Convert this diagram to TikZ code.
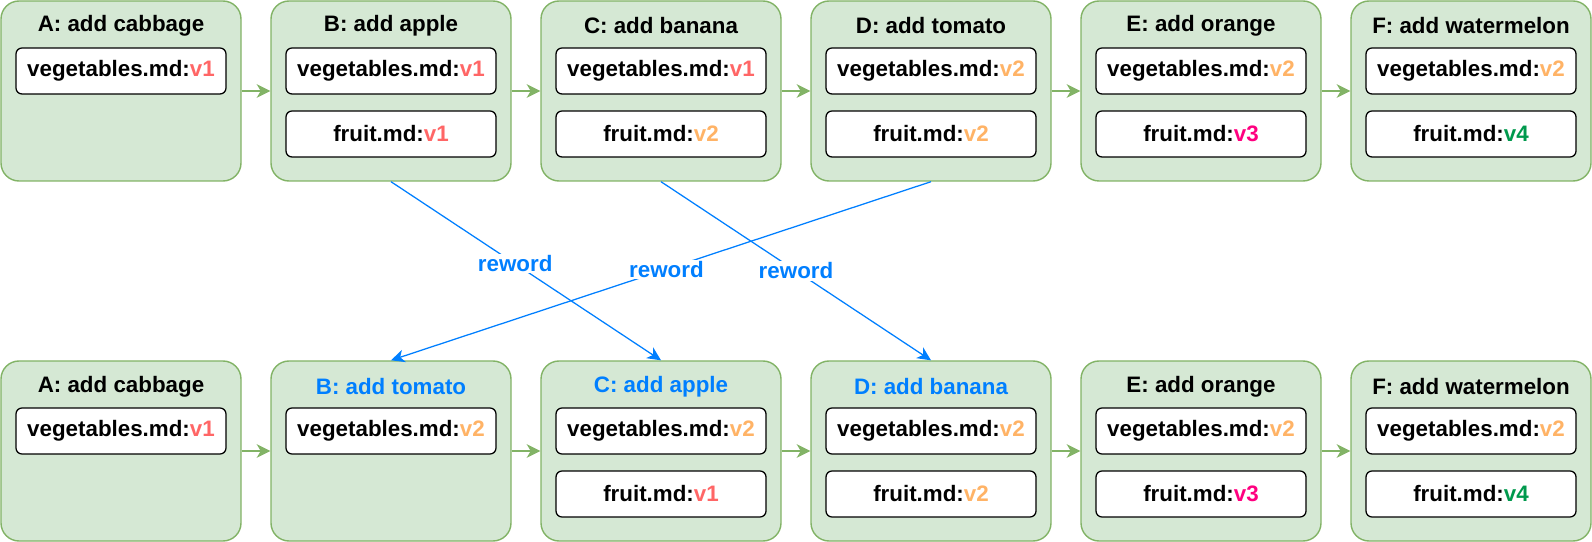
\documentclass[tikz,border=0pt]{standalone}
\usepackage{fontspec}
\setmainfont{Liberation Sans}
\usetikzlibrary{arrows.meta}
\definecolor{boxfill}{HTML}{D5E8D4}
\definecolor{boxline}{HTML}{82B366}
\definecolor{rewordblue}{HTML}{007FFF}
\definecolor{vone}{HTML}{FF6666}
\definecolor{vtwo}{HTML}{FFB366}
\definecolor{vthree}{HTML}{FF0080}
\definecolor{vfour}{HTML}{00994D}

\begin{document}
\begin{tikzpicture}[scale=1,
	font=\bfseries\fontsize{15.9}{19}\selectfont,
	commit/.style={draw=boxline, fill=boxfill, line width=1pt, rounded corners=0.45cm, minimum width=6cm, minimum height=4.5cm, inner sep=0pt},
	filebox/.style={draw=black, fill=white, line width=0.9pt, rounded corners=0.15cm, minimum width=5.25cm, minimum height=1.15cm, inner sep=0pt},
	head/.style={inner sep=0pt},
	flow/.style={draw=boxline, line width=1pt, -{Stealth[length=0.34cm, width=0.34cm, inset=0.1cm]}},
	move/.style={draw=rewordblue, line width=0.9pt, -{Stealth[length=0.34cm, width=0.32cm, inset=0.1cm]}},
	lbl/.style={fill=white, text=rewordblue, inner sep=1pt}]
		\useasboundingbox (0,0) rectangle (39.8,-13.55);

		\node[commit] (a1) at (3.025,-2.275) {};
		\node[commit] (a2) at (9.775,-2.275) {};
		\node[commit] (a3) at (16.525,-2.275) {};
		\node[commit] (a4) at (23.275,-2.275) {};
		\node[commit] (a5) at (30.025,-2.275) {};
		\node[commit] (a6) at (36.775,-2.275) {};

		\node[head] (ta1) at (3.025,-0.65) {A: add cabbage};
		\node[head] (ta2) at (9.775,-0.65) {B: add apple};
		\node[head] (ta3) at (16.525,-0.65) {C: add banana};
		\node[head] (ta4) at (23.275,-0.65) {D: add tomato};
		\node[head] (ta5) at (30.025,-0.65) {E: add orange};
		\node[head] (ta6) at (36.775,-0.65) {F: add watermelon};

		\node[filebox] (va1) at (3.025,-1.775) {vegetables.md:\textcolor{vone}{v1}};
		\node[filebox] (va2) at (9.775,-1.775) {vegetables.md:\textcolor{vone}{v1}};
		\node[filebox] (va3) at (16.525,-1.775) {vegetables.md:\textcolor{vone}{v1}};
		\node[filebox] (va4) at (23.275,-1.775) {vegetables.md:\textcolor{vtwo}{v2}};
		\node[filebox] (va5) at (30.025,-1.775) {vegetables.md:\textcolor{vtwo}{v2}};
		\node[filebox] (va6) at (36.775,-1.775) {vegetables.md:\textcolor{vtwo}{v2}};

		\node[filebox] (fa2) at (9.775,-3.35) {fruit.md:\textcolor{vone}{v1}};
		\node[filebox] (fa3) at (16.525,-3.35) {fruit.md:\textcolor{vtwo}{v2}};
		\node[filebox] (fa4) at (23.275,-3.35) {fruit.md:\textcolor{vtwo}{v2}};
		\node[filebox] (fa5) at (30.025,-3.35) {fruit.md:\textcolor{vthree}{v3}};
		\node[filebox] (fa6) at (36.775,-3.35) {fruit.md:\textcolor{vfour}{v4}};

		\node[commit] (b1) at (3.025,-11.275) {};
		\node[commit] (b2) at (9.775,-11.275) {};
		\node[commit] (b3) at (16.525,-11.275) {};
		\node[commit] (b4) at (23.275,-11.275) {};
		\node[commit] (b5) at (30.025,-11.275) {};
		\node[commit] (b6) at (36.775,-11.275) {};

		\node[head] (tb1) at (3.025,-9.675) {A: add cabbage};
		\node[head, text=rewordblue] (tb2) at (9.775,-9.675) {B: add tomato};
		\node[head, text=rewordblue] (tb3) at (16.525,-9.675) {C: add apple};
		\node[head, text=rewordblue] (tb4) at (23.275,-9.675) {D: add banana};
		\node[head] (tb5) at (30.025,-9.675) {E: add orange};
		\node[head] (tb6) at (36.775,-9.675) {F: add watermelon};

		\node[filebox] (vb1) at (3.025,-10.775) {vegetables.md:\textcolor{vone}{v1}};
		\node[filebox] (vb2) at (9.775,-10.775) {vegetables.md:\textcolor{vtwo}{v2}};
		\node[filebox] (vb3) at (16.525,-10.775) {vegetables.md:\textcolor{vtwo}{v2}};
		\node[filebox] (vb4) at (23.275,-10.775) {vegetables.md:\textcolor{vtwo}{v2}};
		\node[filebox] (vb5) at (30.025,-10.775) {vegetables.md:\textcolor{vtwo}{v2}};
		\node[filebox] (vb6) at (36.775,-10.775) {vegetables.md:\textcolor{vtwo}{v2}};

		\node[filebox] (fb3) at (16.525,-12.35) {fruit.md:\textcolor{vone}{v1}};
		\node[filebox] (fb4) at (23.275,-12.35) {fruit.md:\textcolor{vtwo}{v2}};
		\node[filebox] (fb5) at (30.025,-12.35) {fruit.md:\textcolor{vthree}{v3}};
		\node[filebox] (fb6) at (36.775,-12.35) {fruit.md:\textcolor{vfour}{v4}};

		\draw[flow] (a1) -- (a2);
		\draw[flow] (a2) -- (a3);
		\draw[flow] (a3) -- (a4);
		\draw[flow] (a4) -- (a5);
		\draw[flow] (a5) -- (a6);

		\draw[flow] (b1) -- (b2);
		\draw[flow] (b2) -- (b3);
		\draw[flow] (b3) -- (b4);
		\draw[flow] (b4) -- (b5);
		\draw[flow] (b5) -- (b6);

		\draw[move] (a2.south) -- node[lbl, pos=0.46] {reword} (b3.north);
		\draw[move] (a4.south) -- node[lbl, pos=0.49] {reword} (b2.north);
		\draw[move] (a3.south) -- node[lbl, pos=0.5] {reword} (b4.north);
	\end{tikzpicture}
\end{document}
